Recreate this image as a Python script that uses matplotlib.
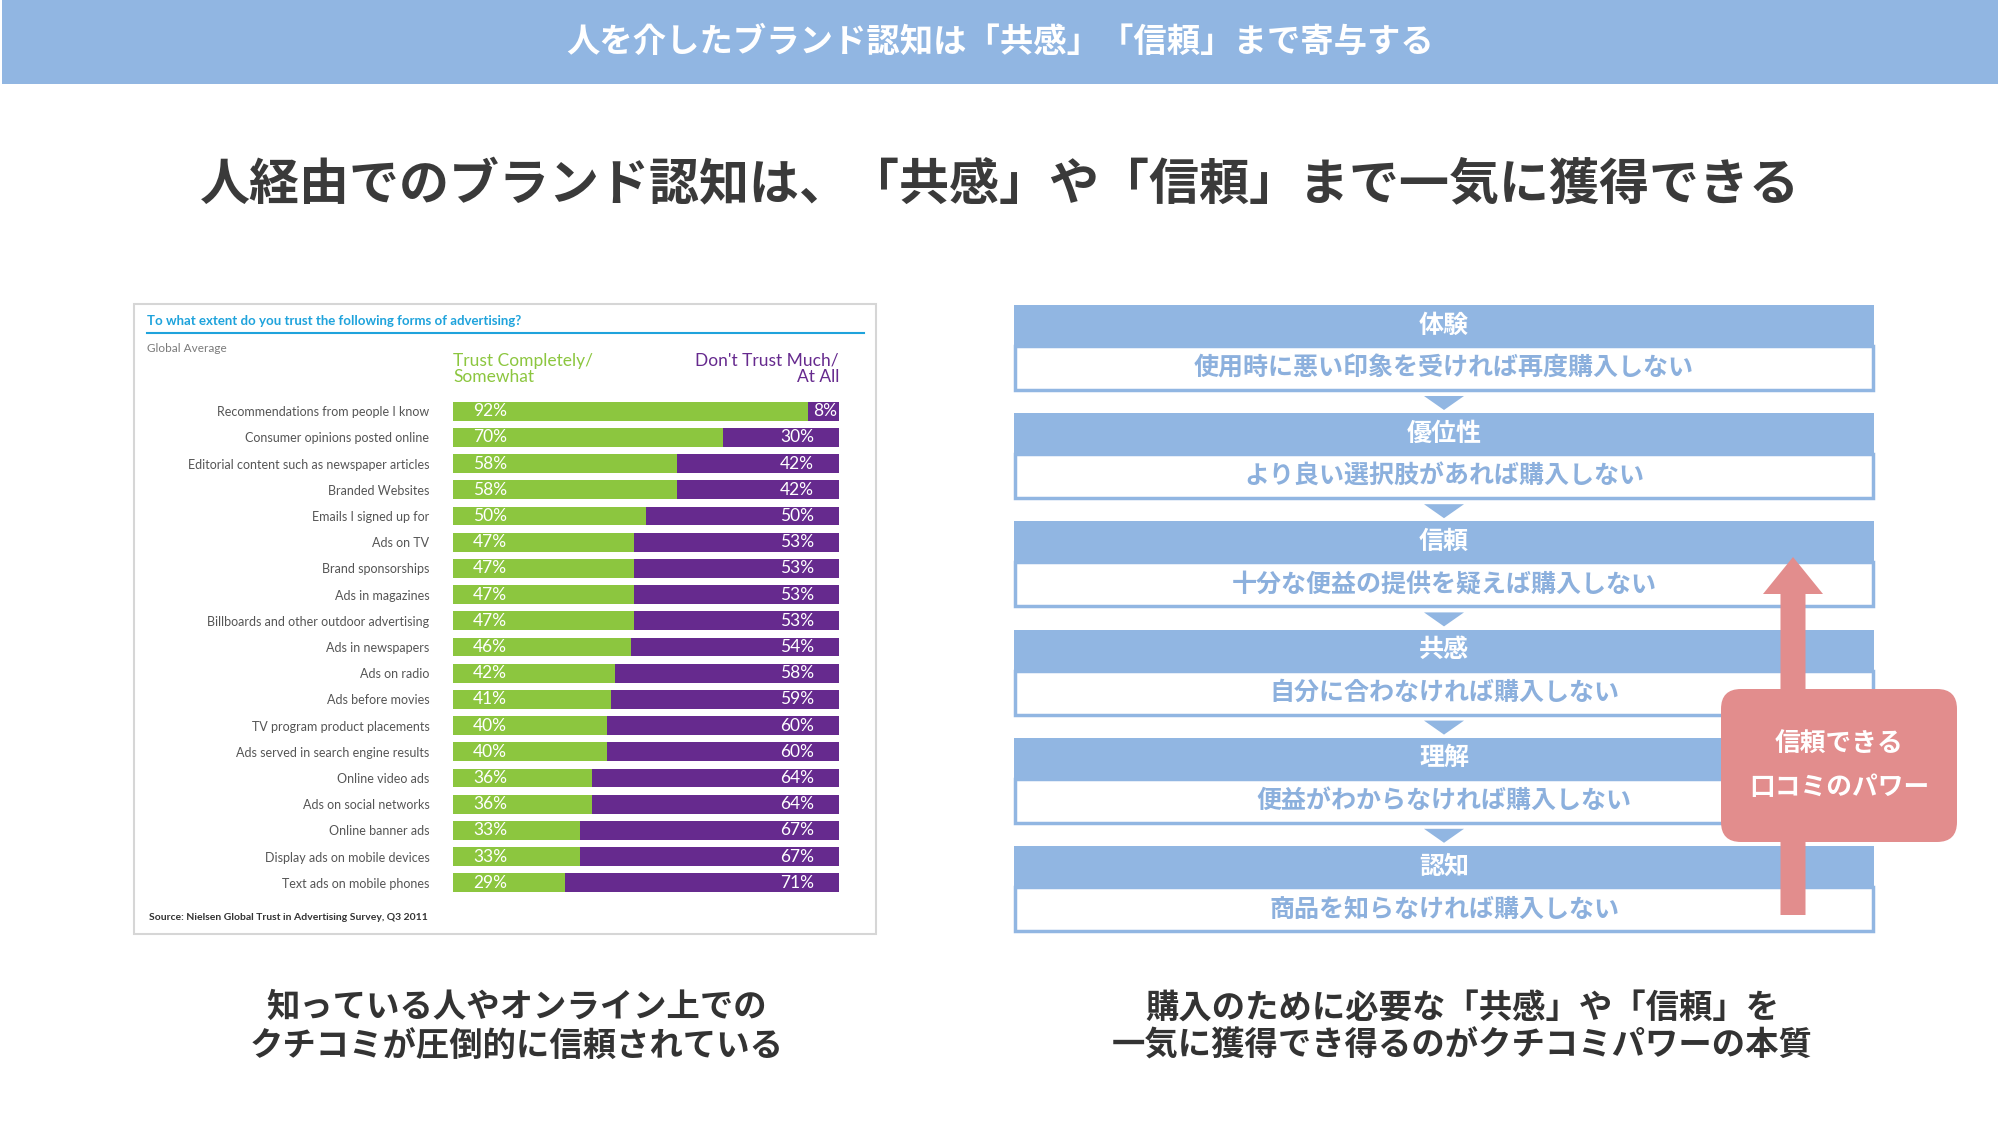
import matplotlib
matplotlib.use("Agg")
import matplotlib.pyplot as plt
from matplotlib import patches

plt.rcParams['font.family'] = ['Noto Sans CJK JP', 'DejaVu Sans']

# --- data ---
categories = [
    "Recommendations from people I know",
    "Consumer opinions posted online",
    "Editorial content such as newspaper articles",
    "Branded Websites",
    "Emails I signed up for",
    "Ads on TV",
    "Brand sponsorships",
    "Ads in magazines",
    "Billboards and other outdoor advertising",
    "Ads in newspapers",
    "Ads on radio",
    "Ads before movies",
    "TV program product placements",
    "Ads served in search engine results",
    "Online video ads",
    "Ads on social networks",
    "Online banner ads",
    "Display ads on mobile devices",
    "Text ads on mobile phones",
]
trust = [92, 70, 58, 58, 50, 47, 47, 47, 47, 46, 42, 41, 40, 40, 36, 36, 33, 33, 29]
distrust = [8, 30, 42, 42, 50, 53, 53, 53, 53, 54, 58, 59, 60, 60, 64, 64, 67, 67, 71]

stage_titles = ["体験", "優位性", "信頼", "共感", "理解", "認知"]
stage_texts = [
    "使用時に悪い印象を受ければ再度購入しない",
    "より良い選択肢があれば購入しない",
    "十分な便益の提供を疑えば購入しない",
    "自分に合わなければ購入しない",
    "便益がわからなければ購入しない",
    "商品を知らなければ購入しない",
]

banner_title = "人を介したブランド認知は「共感」「信頼」まで寄与する"
headline = "人経由でのブランド認知は、「共感」や「信頼」まで一気に獲得できる"
left_caption = "知っている人やオンライン上での\nクチコミが圧倒的に信頼されている"
right_caption = "購入のために必要な「共感」や「信頼」を\n一気に獲得でき得るのがクチコミパワーの本質"
badge_text = "信頼できる\n口コミのパワー"

# --- colours ---
blue = "#91b6e2"
blue_text = "#8cb0dd"
green = "#8cc63f"
purple = "#662a8e"
pink = "#e28d8d"
cyan = "#1fa3dc"
dark = "#3a3a3a"

W, H = 2000, 1125
fig = plt.figure(figsize=(20, 11.25), dpi=100)
fig.patch.set_facecolor("white")

# background axes in pixel units (y down)
bg = fig.add_axes([0, 0, 1, 1])
bg.set_xlim(0, W)
bg.set_ylim(H, 0)
bg.axis("off")

# top banner
bg.add_patch(patches.Rectangle((2, 0), 1996, 84, color=blue, lw=0))
bg.text(1000, 42, banner_title, color="white", fontsize=24, fontweight="bold",
        ha="center", va="center")

# headline
bg.text(1000, 186, headline, color=dark, fontsize=36, fontweight="bold",
        ha="center", va="center")

# left panel frame
bg.add_patch(patches.Rectangle((134, 304), 742, 630, facecolor="white",
                               edgecolor="#d6d6d6", lw=1.5))
lat = ["Lato", "DejaVu Sans"]
bg.text(147, 321, "To what extent do you trust the following forms of advertising?",
        color=cyan, fontsize=9.5, fontweight="bold", family=lat, ha="left", va="center")
bg.plot([147, 864], [333, 333], color=cyan, lw=1.5)
bg.text(147, 349, "Global Average", color="#7a7a7a", fontsize=8.5, family=lat,
        ha="left", va="center")
bg.text(453, 369, "Trust Completely/\nSomewhat", color=green, fontsize=12.5, family=lat,
        ha="left", va="center", linespacing=1.05)
bg.text(839, 369, "Don't Trust Much/\nAt All", color=purple, fontsize=12.5, family=lat,
        ha="right", va="center", multialignment="right", linespacing=1.05)
bg.text(149, 917, "Source: Nielsen Global Trust in Advertising Survey, Q3 2011",
        color="#333333", fontsize=7.5, fontweight="bold", family=lat, ha="left", va="center")

# bar chart axes
ax = fig.add_axes([453 / W, 1 - 896 / H, 386 / W, 498 / H])
ax.set_xlim(0, 100)
ax.set_ylim(len(categories) - 0.5, -0.5)
ypos = list(range(len(categories)))
ax.barh(ypos, trust, height=0.72, color=green)
ax.barh(ypos, distrust, left=trust, height=0.72, color=purple)
for i, (t, d) in enumerate(zip(trust, distrust)):
    ax.text(5.2, i, f"{t}%", color="white", fontsize=12.5, family=lat,
            ha="left", va="center")
    xr = 99.6 if d < 15 else 93.5
    ax.text(xr, i, f"{d}%", color="white", fontsize=12.5, family=lat,
            ha="right", va="center")
ax.set_yticks(ypos)
ax.set_yticklabels(categories, fontsize=9, color="#555555", family=lat)
ax.tick_params(axis="y", length=0, pad=17)
ax.set_xticks([])
for s in ax.spines.values():
    s.set_visible(False)
ax.patch.set_alpha(0)

# right flow diagram
bx0, bx1 = 1014, 1874
cx = (bx0 + bx1) / 2
top0, step, hh, bh = 305, 108.2, 41, 45
for i, (title, txt) in enumerate(zip(stage_titles, stage_texts)):
    top = top0 + i * step
    bg.add_patch(patches.Rectangle((bx0, top), bx1 - bx0, hh, color=blue, lw=0))
    bg.add_patch(patches.Rectangle((bx0 + 1, top + hh), bx1 - bx0 - 2, bh - 1,
                                   facecolor="white", edgecolor=blue, lw=2.5))
    bg.text(cx, top + hh / 2, title, color="white", fontsize=18, fontweight="bold",
            ha="center", va="center")
    bg.text(cx, top + hh + bh / 2, txt, color=blue_text, fontsize=18, fontweight="bold",
            ha="center", va="center")
    if i < len(stage_titles) - 1:
        ty = top + hh + bh + 5
        bg.add_patch(patches.Polygon([[cx - 20, ty], [cx + 20, ty], [cx, ty + 14]],
                                     closed=True, color=blue, lw=0))

# pink arrow and badge
bg.add_patch(patches.FancyArrow(1793, 915, 0, -358, width=25, head_width=60,
                                head_length=37, length_includes_head=True,
                                color=pink, lw=0, zorder=5))
bg.add_patch(patches.FancyBboxPatch((1721, 689), 236, 153,
                                    boxstyle="round,pad=0,rounding_size=20",
                                    color=pink, lw=0, zorder=6))
bg.text(1839, 766, badge_text, color="white", fontsize=18.5, fontweight="bold",
        ha="center", va="center", linespacing=1.75, zorder=7)

# captions
bg.text(517, 1027, left_caption, color="#333333", fontsize=24, fontweight="bold",
        ha="center", va="center", linespacing=1.2)
bg.text(1462, 1027, right_caption, color="#333333", fontsize=24, fontweight="bold",
        ha="center", va="center", linespacing=1.2)

plt.savefig("out.png", dpi=100)
